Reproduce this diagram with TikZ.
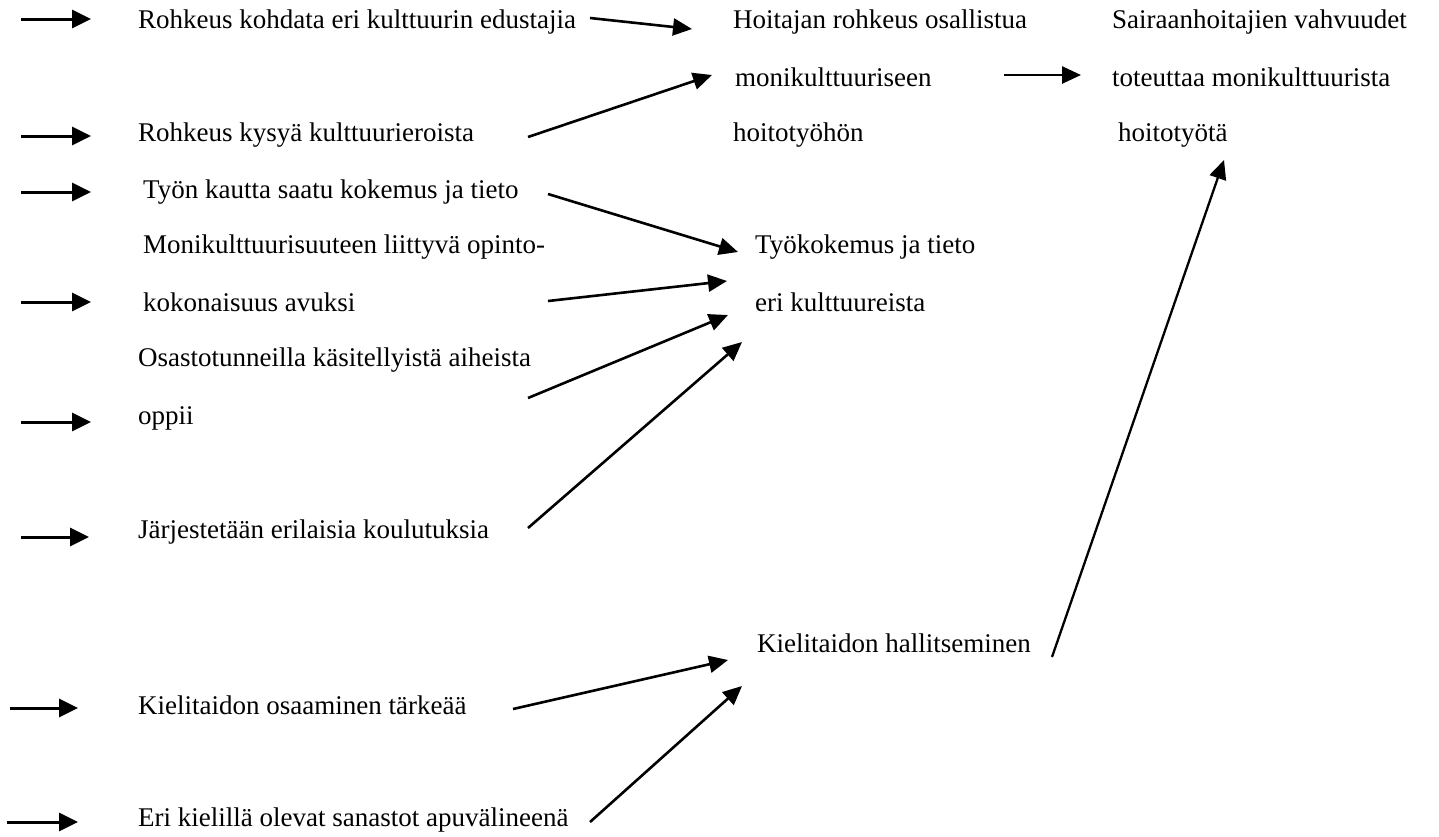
\documentclass[tikz,border=0pt]{standalone}
\usepackage{fontspec}
\setmainfont{Liberation Serif}
\usetikzlibrary{arrows.meta}
\tikzset{
  lbl/.style={anchor=west, inner sep=0pt, font=\fontsize{27}{30}\selectfont, text height=19pt, text depth=6pt},
  arr/.style={line width=3pt, -{Triangle[length=19pt,width=18pt]}},
  darr/.style={line width=2.6pt, -{Triangle[length=19pt,width=17pt]}},
}
\begin{document}
\begin{tikzpicture}[x=1pt,y=-1pt]
\useasboundingbox (0,0) rectangle (1439,836);
% text nodes
\node[lbl] (r1) at (138,22) {Rohkeus kohdata eri kulttuurin edustajia};
\node[lbl] (h1) at (733,22) {Hoitajan rohkeus osallistua};
\node[lbl] (s1) at (1112,22) {Sairaanhoitajien vahvuudet};
\node[lbl] (h2) at (735,80) {monikulttuuriseen};
\node[lbl] (s2) at (1112,80) {toteuttaa monikulttuurista};
\node[lbl] (r2) at (138,135) {Rohkeus kysyä kulttuurieroista};
\node[lbl] (h3) at (733,135) {hoitotyöhön};
\node[lbl] (s3) at (1118,135) {hoitotyötä};
\node[lbl] (t1) at (143,192) {Työn kautta saatu kokemus ja tieto};
\node[lbl] (m1) at (143,247) {Monikulttuurisuuteen liittyvä opinto-};
\node[lbl] (w1) at (755,247) {Työkokemus ja tieto};
\node[lbl] (m2) at (143,305) {kokonaisuus avuksi};
\node[lbl] (w2) at (755,305) {eri kulttuureista};
\node[lbl] (o1) at (138,360) {Osastotunneilla käsitellyistä aiheista};
\node[lbl] (o2) at (138,418) {oppii};
\node[lbl] (j1) at (138,532) {Järjestetään erilaisia koulutuksia};
\node[lbl] (k1) at (757,646) {Kielitaidon hallitseminen};
\node[lbl] (k2) at (138,708) {Kielitaidon osaaminen tärkeää};
\node[lbl] (e1) at (138,820) {Eri kielillä olevat sanastot apuvälineenä};
% left-side arrow end points
\coordinate (la1) at (21,19);  \coordinate (lb1) at (91,19);
\coordinate (la2) at (21,136); \coordinate (lb2) at (91,136);
\coordinate (la3) at (21,192); \coordinate (lb3) at (91,192);
\coordinate (la4) at (21,302); \coordinate (lb4) at (91,302);
\coordinate (la5) at (21,422); \coordinate (lb5) at (91,422);
\coordinate (la6) at (21,537); \coordinate (lb6) at (89,537);
\coordinate (la7) at (10,708); \coordinate (lb7) at (78,708);
\coordinate (la8) at (7,822);  \coordinate (lb8) at (78,822);
\foreach \i in {1,...,8} {\draw[arr] (la\i) -- (lb\i);}
% diagonal arrow end points
\coordinate (da) at (590,18);   \coordinate (ta) at (692,29);
\coordinate (db) at (528,137);  \coordinate (tb) at (712,75);
\coordinate (dc) at (1004,75);  \coordinate (tc) at (1081,75);
\coordinate (dd) at (548,194);  \coordinate (td) at (738,252);
\coordinate (de) at (548,301);  \coordinate (te) at (727,281);
\coordinate (df) at (528,398);  \coordinate (tf) at (728,315);
\coordinate (dg) at (528,528);  \coordinate (tg) at (742,342);
\coordinate (dh) at (1052,657); \coordinate (th) at (1224,160);
\coordinate (di) at (513,709);  \coordinate (ti) at (728,660);
\coordinate (dj) at (590,822);  \coordinate (tj) at (742,686);
\foreach \s/\t in {da/ta,db/tb,dc/tc,dd/td,de/te,df/tf,dg/tg,di/ti,dj/tj} {\draw[darr] (\s) -- (\t);}
\draw[darr, line width=2.3pt] (dh) -- (th);
\end{tikzpicture}
\end{document}
